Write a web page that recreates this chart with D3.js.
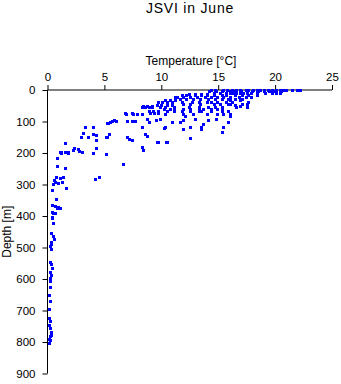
<!DOCTYPE html>
<html><head><meta charset="utf-8">
<script src="https://cdn.jsdelivr.net/npm/d3@7"></script>
<style>
body{margin:0;background:#fff;}
svg text{font-family:"Liberation Sans",Arial,Helvetica,sans-serif;fill:#000;}
</style></head>
<body><div id="chart"></div>
<script>
const title = "JSVI in June";
const xLabel = "Temperature [°C]";
const yLabel = "Depth [m]";
const xTicks = [0, 5, 10, 15, 20, 25];
const yTicks = [0, 100, 200, 300, 400, 500, 600, 700, 800, 900];

// temperature [°C] and depth [m] of each sample
const temperature = [
  14.4,14.7,15.4,15.8,16.2,16.6,16.9,17.4,17.6,18.1,18.4,18.7,19.0,19.4,19.7,20.1,20.4,20.7,21.0,21.5,21.9,22.2,
  14.2,14.8,15.3,16.0,16.5,17.0,17.5,18.0,18.5,19.0,19.5,20.0,20.5,16.0,16.6,17.2,
  14.6,15.2,15.7,16.3,16.9,17.5,17.9,18.4,19.1,19.7,20.1,20.4,
  12.4,13.0,13.5,14.0,
  11.8,12.2,13.0,13.5,14.0,14.6,15.3,15.7,16.5,17.1,17.6,18.4,
  11.2,11.4,11.9,12.5,13.1,13.8,14.4,14.9,15.4,16.0,16.8,17.4,17.9,
  10.3,10.8,11.2,11.6,12.2,12.8,13.4,14.1,14.7,15.3,15.9,16.5,17.1,16.0,16.9,
  9.7,10.1,10.5,10.9,11.8,12.7,13.3,14.0,14.4,14.9,15.7,16.2,17.6,
  9.6,10.0,10.5,10.9,11.9,12.5,13.4,14.6,15.2,15.9,17.1,17.5,8.4,8.7,9.2,
  8.3,8.6,8.9,9.2,9.9,10.3,11.1,12.4,13.3,14.1,14.7,15.3,16.6,16.0,16.5,16.9,17.5,
  10.2,10.8,11.1,11.9,12.5,13.3,13.7,14.4,14.9,15.3,
  8.9,9.3,9.7,10.5,11.1,11.8,12.5,13.3,13.5,14.4,15.3,15.9,9.0,9.4,
  6.8,7.4,7.5,7.9,8.3,6.9,9.7,10.3,11.9,12.8,14.0,14.9,15.4,16.0,
  12.1,16.0,
  5.2,5.5,5.7,6.0,5.8,5.3,7.0,7.4,7.7,8.7,8.9,9.5,9.9,10.9,11.6,11.9,13.0,14.1,14.8,15.9,
  13.7,8.3,10.3,12.5,13.5,15.4,11.9,13.5,10.2,8.3,
  15.3,8.6,8.7,12.5,9.6,10.5,8.3,8.4,9.7,10.4,7.0,7.2,7.4,
  5.2,5.4,5.1,5.1,6.6,
  3.3,4.0,3.1,2.9,3.6,4.0,4.3,4.3,4.0,4.3,2.8,3.0,2.2,1.8,1.5,1.2,1.5,1.1,2.3,2.7,1.2,1.8,0.8,
  4.5,4.2,
  0.8,1.5,0.75,1.1,1.4,0.66,0.95,1.25,0.5,0.57,1.6,0.42,
  0.75,0.42,0.66,0.95,1.1,0.83,0.37,0.5,0.66,0.37,0.42,0.5,
  0.31,0.46,0.57,0.28,0.35,0.22,0.31,
  0.22,0.31,0.37,0.22,0.31,0.22,0.26,
  0.22,0.16,0.22,0.13,
  0.13,0.22,0.16,0.22,0.28,0.22,0.35,0.16,0.16,0.22
];
const depth = [
  1,1,1,1,1,1,1,1,1,1,1,1,1,1,1,1,1,1,1,1,1,1,
  4,4,4,4,4,4,4,4,4,4,4,4,4,10,10,10,
  8,8,8,8,8,8,8,8,8,8,8,8,
  13,13,13,13,
  16,16,16,16,16,16,16,16,16,16,16,16,
  21,23,23,23,23,23,23,23,23,23,23,23,23,
  32,32,32,30,30,30,30,30,30,30,30,30,30,32,32,
  39,39,39,39,38,38,38,38,38,38,38,38,38,
  47,47,47,47,46,46,46,46,46,46,46,46,50,50,51,
  53,53,53,53,53,53,53,53,53,53,53,53,53,44,48,52,54,
  60,60,60,60,60,60,60,60,60,60,
  67,67,67,67,67,67,67,67,67,67,67,67,74,74,
  74,74,76,77,77,76,74,76,76,76,76,76,76,76,
  82,82,
  106,101,97,98,95,105,98,98,98,93,100,96,93,100,100,95,93,95,93,100,
  109,116,116,116,116,116,125,125,122,118,
  132,141,146,153,166,164,180,190,165,164,150,156,159,
  148,140,148,203,236,
  118,116,136,148,148,140,143,159,199,185,193,196,190,196,196,196,169,196,185,187,201,201,217,
  275,283,
  241,249,275,280,275,291,294,293,298,286,312,317,
  347,365,368,370,376,375,386,391,389,402,407,421,
  455,463,473,481,489,495,506,
  545,552,566,577,587,598,606,
  624,651,669,695,
  725,733,746,756,767,781,778,792,804,795
];

const W = 341, H = 384;
const svg = d3.select("#chart").append("svg").attr("width", W).attr("height", H);

const x = d3.scaleLinear().domain([0, 25]).range([47.5, 332]);
const y = d3.scaleLinear().domain([0, 900]).range([90, 373.5]);

svg.append("text").attr("x", 190).attr("y", 13).attr("text-anchor", "middle")
  .attr("font-size", 14).attr("letter-spacing", 0.8).text(title);

const xAxis = svg.append("g").attr("transform", "translate(0,90)")
  .call(d3.axisTop(x).tickValues(xTicks).tickSize(5).tickPadding(4).tickFormat(d3.format("d")));
xAxis.attr("font-family", null);
xAxis.select(".domain").attr("stroke", "#000").attr("d", `M${x(0)},0H${x(25)}`);
xAxis.selectAll("text").attr("font-size", 11.5).attr("fill", "#000");

const yAxis = svg.append("g").attr("transform", "translate(47.5,0)")
  .call(d3.axisLeft(y).tickValues(yTicks).tickSize(5).tickPadding(7).tickFormat(d3.format("d")));
yAxis.attr("font-family", null);
yAxis.select(".domain").attr("stroke", "#000").attr("d", `M0,${y(0)}V${y(900)}`);
yAxis.selectAll("text").attr("font-size", 11.5).attr("fill", "#000");

svg.append("text").attr("x", 191).attr("y", 65).attr("text-anchor", "middle")
  .attr("font-size", 12).text(xLabel);
svg.append("text").attr("transform", `translate(11,${(y(0)+y(900))/2}) rotate(-90)`)
  .attr("text-anchor", "middle").attr("font-size", 12).text(yLabel);

const pts = temperature.map((t, i) => ({t, d: depth[i]}));
svg.append("g").selectAll("rect").data(pts).join("rect")
  .attr("x", p => Math.round(x(p.t)) - 1.5)
  .attr("y", p => Math.round(y(p.d)) - 1)
  .attr("width", 3).attr("height", 3)
  .attr("fill", "#0000ff")
  .attr("shape-rendering", "crispEdges");
</script></body></html>
